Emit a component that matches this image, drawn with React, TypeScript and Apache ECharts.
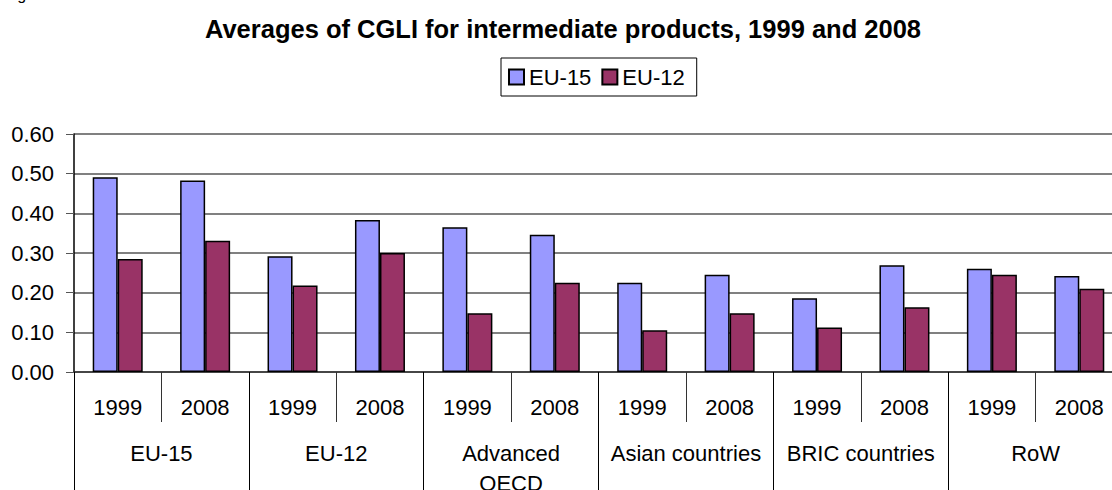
import React, { useEffect, useRef } from "react";
import * as echarts from "echarts";

const years = ["1999", "2008", "1999", "2008", "1999", "2008", "1999", "2008", "1999", "2008", "1999", "2008"];
const groups = ["EU-15", "EU-12", "Advanced\nOECD", "Asian countries", "BRIC countries", "RoW"];
const eu15Values = [0.491, 0.483, 0.292, 0.383, 0.365, 0.346, 0.225, 0.245, 0.186, 0.269, 0.26, 0.242];
const eu12Values = [0.285, 0.331, 0.218, 0.3, 0.148, 0.225, 0.105, 0.148, 0.112, 0.163, 0.245, 0.21];
const yTicks = [0, 0.1, 0.2, 0.3, 0.4, 0.5, 0.6];

const FONT = "'Liberation Sans', Arial, Helvetica, sans-serif";

export default function App() {
  const ref = useRef<HTMLDivElement>(null);
  useEffect(() => {
    if (!ref.current) return;
    const chart = echarts.init(ref.current, undefined, { renderer: "svg" });
    chart.setOption({
      animation: false,
      backgroundColor: "#ffffff",
      textStyle: { fontFamily: FONT },
      title: {
        text: "Averages of CGLI for intermediate products, 1999 and 2008",
        left: 558,
        top: 11,
        textAlign: "center",
        textStyle: { fontFamily: FONT, fontSize: 25.5, fontWeight: "bold", color: "#000" },
      },
      graphic: [
        {
          type: "text",
          left: 4,
          top: -14,
          style: { text: "Figure 3", fontFamily: FONT, fontSize: 16, fill: "#000" },
        },
      ],
      legend: {
        left: 501,
        top: 58,
        padding: [8, 12, 8, 7],
        itemGap: 10,
        itemWidth: 15,
        itemHeight: 15,
        borderColor: "#000",
        borderWidth: 1,
        icon: "rect",
        textStyle: { fontFamily: FONT, fontSize: 22, color: "#000" },
        data: ["EU-15", "EU-12"],
      },
      grid: { left: 74, top: 134, width: 1049, height: 238, outerBoundsMode: "none", containLabel: false },
      xAxis: [
        {
          type: "category",
          data: years,
          position: "bottom",
          axisLine: { show: true, lineStyle: { color: "#333", width: 1.5 } },
          axisTick: { show: true, interval: 0, length: 50, lineStyle: { color: "#333", width: 1 } },
          axisLabel: { interval: 0, margin: 24, fontSize: 22, color: "#000", fontFamily: FONT },
        },
        {
          type: "category",
          data: groups,
          position: "bottom",
          axisLine: { show: false },
          axisTick: { show: true, interval: 0, length: 130, lineStyle: { color: "#000", width: 1 } },
          axisLabel: { interval: 0, margin: 66, fontSize: 22, lineHeight: 30, color: "#000", fontFamily: FONT },
        },
      ],
      yAxis: {
        type: "value",
        min: yTicks[0],
        max: yTicks[yTicks.length - 1],
        interval: 0.1,
        axisLine: { show: true, lineStyle: { color: "#000", width: 1.5 } },
        axisTick: { show: true, length: 8, lineStyle: { color: "#555", width: 1 } },
        axisLabel: {
          margin: 20,
          fontSize: 22,
          color: "#000",
          fontFamily: FONT,
          formatter: (v: number) => v.toFixed(2),
        },
        splitLine: { show: true, lineStyle: { color: "#808080", width: 2 } },
      },
      series: [
        {
          name: "EU-15",
          type: "bar",
          xAxisIndex: 0,
          data: eu15Values,
          barWidth: 25,
          barGap: "0%",
          itemStyle: { color: "#9999FF", borderColor: "#000", borderWidth: 1.5 },
        },
        {
          name: "EU-12",
          type: "bar",
          xAxisIndex: 0,
          data: eu12Values,
          barWidth: 25,
          barGap: "0%",
          itemStyle: { color: "#993366", borderColor: "#000", borderWidth: 1.5 },
        },
      ],
    });
    return () => chart.dispose();
  }, []);
  return (
    <div
      ref={ref}
      style={{ position: "absolute", left: 0, top: 0, width: 1112, height: 490, background: "#fff" }}
    />
  );
}
